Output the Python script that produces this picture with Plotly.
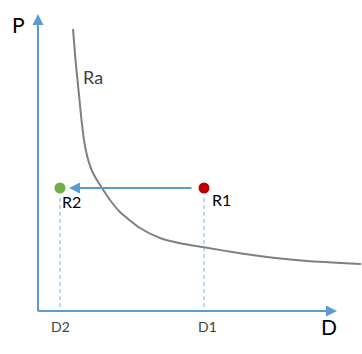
import plotly.graph_objects as go

# Data (D horizontal, P vertical; origin at axes corner)
curve_D = [35, 37.5, 39.5, 41.5, 43.5, 46, 48, 50.5, 54, 58, 64, 72, 82, 102, 122, 142, 166, 202, 235, 269, 323]
curve_P = [282, 251, 231, 211, 191, 171, 160, 150, 140, 132.5, 123, 111, 99, 83, 73, 67.7, 63.7, 57.7, 53.3, 50, 47]
points_name = ["R1", "R2"]
points_D = [166, 22]
points_P = [123, 123]
points_color = ["#C00000", "#70AD47"]
tick_labels = ["D1", "D2"]
axis_len_D = 299
axis_len_P = 297

FONT = "Lato"
AX = "#5B9BD5"
DASH = "#9DC3E6"

fig = go.Figure()

# dashed drop lines
for d, p in zip(points_D, points_P):
    fig.add_trace(go.Scatter(x=[d, d], y=[p - 10, 0], mode="lines",
                             line=dict(color=DASH, width=1.3, dash="4px,3px"),
                             hoverinfo="skip", showlegend=False))

# curve Ra
fig.add_trace(go.Scatter(x=curve_D, y=curve_P, mode="lines",
                         line=dict(color="#7F7F7F", width=2, shape="spline", smoothing=0.6),
                         showlegend=False))

# points
fig.add_trace(go.Scatter(x=points_D, y=points_P, mode="markers",
                         marker=dict(color=points_color, size=11),
                         showlegend=False))

# axes arrows
fig.add_annotation(x=0, y=axis_len_P, ax=0, ay=-2, xref="x", yref="y", axref="x", ayref="y",
                   showarrow=True, arrowhead=2, arrowsize=1.1, arrowwidth=2, arrowcolor=AX, text="")
fig.add_annotation(x=axis_len_D, y=0, ax=-1, ay=0, xref="x", yref="y", axref="x", ayref="y",
                   showarrow=True, arrowhead=2, arrowsize=1.1, arrowwidth=2, arrowcolor=AX, text="")

# R1 -> R2 arrow
fig.add_annotation(x=points_D[1] + 9, y=points_P[1], ax=points_D[0] - 11, ay=points_P[0],
                   xref="x", yref="y", axref="x", ayref="y",
                   showarrow=True, arrowhead=2, arrowsize=1.1, arrowwidth=2, arrowcolor=AX, text="")

# labels
fig.add_annotation(x=-20, y=287, text="P", showarrow=False, font=dict(family=FONT, size=21, color="#000000"))
fig.add_annotation(x=291, y=-15, text="D", showarrow=False, font=dict(family=FONT, size=21, color="#000000"))
fig.add_annotation(x=55, y=234, text="Ra", showarrow=False, font=dict(family=FONT, size=18, color="#404040"))
fig.add_annotation(x=points_D[0] + 17, y=points_P[0] - 11, text=points_name[0], showarrow=False,
                   font=dict(family=FONT, size=16, color="#000000"))
fig.add_annotation(x=points_D[1] + 11, y=points_P[1] - 13, text=points_name[1], showarrow=False,
                   font=dict(family=FONT, size=16, color="#000000"))
fig.add_annotation(x=points_D[0] + 3, y=-15, text=tick_labels[0], showarrow=False,
                   font=dict(family=FONT, size=14, color="#404040"))
fig.add_annotation(x=points_D[1], y=-15, text=tick_labels[1], showarrow=False,
                   font=dict(family=FONT, size=14, color="#404040"))

fig.update_layout(width=362, height=354, margin=dict(l=0, r=0, t=0, b=0),
                  plot_bgcolor="white", paper_bgcolor="white",
                  xaxis=dict(range=[-38, 324], visible=False, fixedrange=True),
                  yaxis=dict(range=[-43, 311], visible=False, fixedrange=True))

fig.write_html("out.html")
